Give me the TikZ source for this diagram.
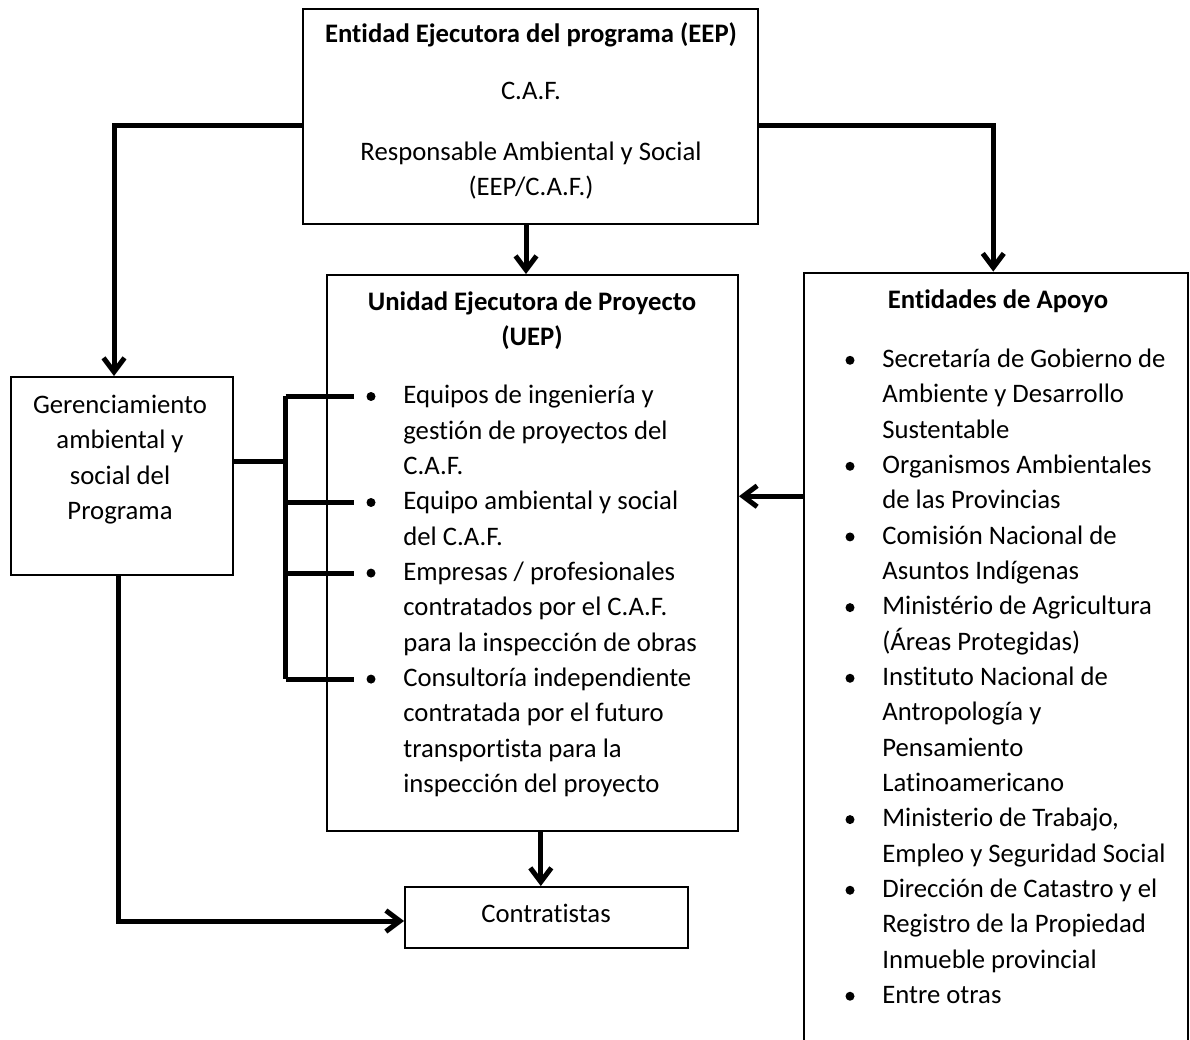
\documentclass[tikz,border=0pt]{standalone}
\usepackage{fontspec}
\setmainfont{Carlito}[Ligatures=NoCommon]
\usetikzlibrary{calc,arrows.meta}
\newcommand\orgfont{\fontsize{15.2}{20.1}\selectfont}

\begin{document}
\begin{tikzpicture}[x=0.02cm,y=-0.02cm,
    box/.style={draw,line width=0.04cm,inner sep=0pt},
    txt/.style={inner sep=0pt,font=\orgfont},
    title/.style={txt,font=\orgfont\bfseries},
    item/.style={txt,anchor=north west,align=left},
    dot/.style={circle,fill,inner sep=0pt,minimum size=0.18cm},
    link/.style={line width=0.1cm},
    conn/.style={link,-{Straight Barb[length=2.8mm,width=4.2mm]}}]
    \useasboundingbox (0,0) rectangle (1190,1040);
    \clip (0,0) rectangle (1190,1040);

    % draw boxes
    \node[box,minimum width=9.10cm,minimum height=4.30cm] (eep) at (530.5,116.5) {};
    \node[box,minimum width=8.22cm,minimum height=11.12cm] (uep) at (532.5,553) {};
    \node[box,minimum width=4.46cm,minimum height=3.96cm] (ger) at (122,476) {};
    \node[box,minimum width=5.66cm,minimum height=1.22cm] (con) at (546.5,917.5) {};
    \node[box,minimum width=7.69cm,minimum height=16.15cm] (ent) at (996.25,676.25) {};

    % executing entity
    \node[title,anchor=base] (eeptitle) at (531,43) {Entidad Ejecutora del programa (EEP)};
    \node[txt,anchor=base] (caf) at (531,100) {C.A.F.};
    \node[txt,anchor=north,align=center] (resp) at (531,135.3) {\strut Responsable Ambiental y Social\\(EEP/C.A.F.)};

    % project unit
    \node[title,anchor=north,align=center] (ueptitle) at (532,285.3) {\strut Unidad Ejecutora de Proyecto\\(UEP)};
    \node[dot] (u1) at (371,396.5) {};
    \node[item] (t1) at (403,378.8) {\strut Equipos de ingeniería y\\gestión de proyectos del\\C.A.F.};
    \node[dot] (u2) at (371,502.5) {};
    \node[item] (t2) at (403,484.8) {\strut Equipo ambiental y social\\del C.A.F.};
    \node[dot] (u3) at (371,573.1) {};
    \node[item] (t3) at (403,555.4) {\strut Empresas / profesionales\\contratados por el C.A.F.\\para la inspección de obras};
    \node[dot] (u4) at (371,679.1) {};
    \node[item] (t4) at (403,661.4) {\strut Consultoría independiente\\contratada por el futuro\\transportista para la\\inspección del proyecto};

    % management and contractors
    \node[txt,anchor=north,align=center] (gertext) at (120,388.6) {\strut Gerenciamiento\\ambiental y\\social del\\Programa};
    \node[txt,anchor=base] (context) at (546,922.7) {Contratistas};

    % support entities
    \node[title,anchor=base] (enttitle) at (998,308.3) {Entidades de Apoyo};
    \foreach \k/\txt [count=\i] in {
        0/{Secretaría de Gobierno de\\Ambiente y Desarrollo\\Sustentable},
        3/{Organismos Ambientales\\de las Provincias},
        5/{Comisión Nacional de\\Asuntos Indígenas},
        7/{Ministério de Agricultura\\(Áreas Protegidas)},
        9/{Instituto Nacional de\\Antropología y\\Pensamiento\\Latinoamericano},
        13/{Ministerio de Trabajo,\\Empleo y Seguridad Social},
        15/{Dirección de Catastro y el\\Registro de la Propiedad\\Inmueble provincial},
        18/{Entre otras}} {
      \node[dot] (e\i) at (850,360.3+35.33*\k) {};
      \node[item] (et\i) at (882,342.6+35.33*\k) {\strut\txt};
    }

    % fork from management to the teams
    \coordinate (fork) at (285.7,461.7);
    \draw[link] (ger.east |- fork) -- (fork);
    \draw[link] (fork |- u1) -- (fork |- u4);
    \foreach \i in {1,...,4}
      \draw[link,shorten >=0.25cm] (fork |- u\i) -- (u\i);

    % arrows
    \draw[conn] ($(eep.west)+(0,9)$) -| ($(ger.north)+(-8,0)$);
    \draw[conn] ($(eep.east)+(0,9)$) -| ($(ent.north)+(-3,0)$);
    \draw[conn] ($(eep.south)+(-4.5,0)$) coordinate (drop1) -- (drop1 |- uep.north);
    \coordinate (drop2) at ($(con.north)+(-5.7,0)$);
    \draw[conn] (drop2 |- uep.south) -- (drop2);
    \draw[conn] ($(ger.south)+(-4,0)$) |- ($(con.west)+(0,3.5)$);
    \draw[conn] ($(ent.west)+(0,-180)$) coordinate (back) -- (back -| uep.east);
\end{tikzpicture}
\end{document}
